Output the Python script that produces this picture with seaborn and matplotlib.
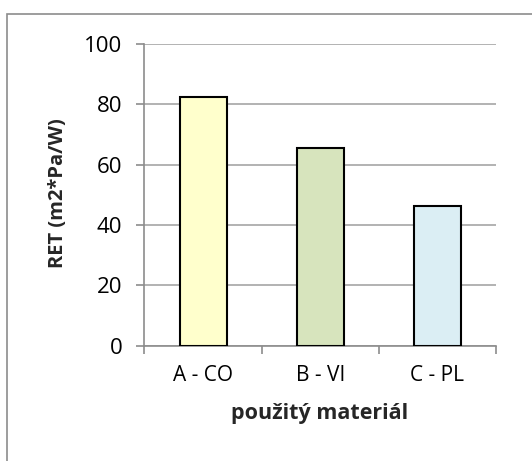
import matplotlib
matplotlib.use("Agg")
import matplotlib.pyplot as plt
import seaborn as sns
import pandas as pd
from matplotlib.patches import Rectangle

categories = ["A - CO", "B - VI", "C - PL"]
values = [82.4, 65.4, 46.3]
bar_colors = ["#FFFFCC", "#D7E4BD", "#DBEEF4"]
y_ticks = [0, 20, 40, 60, 80, 100]
x_label = "použitý materiál"
y_label = "RET (m2*Pa/W)"

sns.set_theme(style="white")
plt.rcParams["font.family"] = ["Open Sans", "DejaVu Sans"]

df = pd.DataFrame({"material": categories, "ret": values})

fig = plt.figure(figsize=(5.32, 4.61), dpi=100)
ax = fig.add_axes([0.2716, 0.2505, 0.6607, 0.654])

sns.barplot(data=df, x="material", y="ret", hue="material", palette=bar_colors,
            order=categories, hue_order=categories, legend=False, width=0.4,
            edgecolor="black", linewidth=1.5, ax=ax, zorder=3, saturation=1)

ax.set_ylim(0, 100)
ax.set_xlim(-0.5, 2.5)
ax.set_yticks(y_ticks)
ax.yaxis.grid(True, color="#a6a6a6", linewidth=1.2, zorder=0)
ax.set_axisbelow(True)

for s in ["top", "right"]:
    ax.spines[s].set_visible(False)
for s in ["left", "bottom"]:
    ax.spines[s].set_color("#8c8c8c")
    ax.spines[s].set_linewidth(1.2)

ax.set_xticks(range(len(categories)))
ax.set_xticklabels(categories)
ax.set_xticks([-0.5, 0.5, 1.5, 2.5], minor=True)
ax.tick_params(axis="x", which="major", length=0, pad=14, labelsize=15, colors="black")
ax.tick_params(axis="x", which="minor", length=6, width=1.2, color="#8c8c8c", direction="out", bottom=True)
ax.tick_params(axis="y", which="major", length=6, width=1.2, color="#8c8c8c", direction="out",
               left=True, pad=10, labelsize=16, labelcolor="black")

ax.set_xlabel(x_label, fontsize=15.5, fontweight="bold", va="center")
ax.set_ylabel(y_label, fontsize=14.5, fontweight="bold", va="center")
ax.xaxis.set_label_coords(0.497, -0.224)
ax.yaxis.set_label_coords(-0.246, 0.506)

frame = Rectangle((7 / 532, -0.1), 1.2, (461 - 14) / 461 + 0.1, transform=fig.transFigure,
                  fill=False, edgecolor="#8c8c8c", linewidth=1.2)
fig.patches.append(frame)

fig.savefig("out.png", dpi=100)
